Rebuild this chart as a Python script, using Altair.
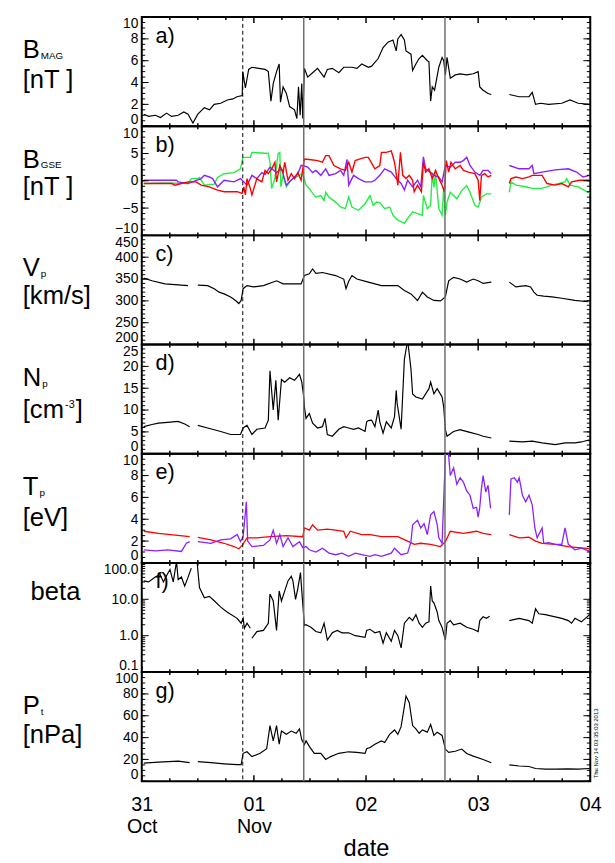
import altair as alt
import pandas as pd

W = 456
H = 111
GAP = None

# ---------------- data (hours since 31 Oct 00:00) ----------------
bmag = [(0.42,1.1),(1.5,0.9),(2.9,1.0),(4.0,0.8),(5.3,1.2),(6.4,0.9),(7.8,1.0),(9.0,1.3),(9.9,1.1),(10.95,0.3),(12.0,1.1),
        (13.4,1.7),(14.5,1.5),(15.5,2.0),(16.9,2.1),(18.3,2.4),(19.5,2.5),(20.4,2.7),(21.5,2.8),(21.62,5.0),(22.18,3.5),
        (22.88,5.2),(23.58,5.4),(26.4,5.2),(27.09,5.0),(27.65,2.3),(28.14,3.9),(28.85,5.0),(29.41,5.7),(29.69,2.2),
        (30.25,3.6),(30.95,3.0),(31.65,1.8),(32.7,1.5),(33.2,0.7),(33.55,3.6),(33.9,1.0),(34.25,3.9),(34.46,0.7),
        (34.81,5.3),(35.51,4.5),(36.57,4.9),(37.62,5.3),(39.02,4.5),(39.72,5.2),(40.78,5.3),(42.18,4.9),(43.23,5.4),
        (44.99,5.4),(46.04,5.3),(47.09,5.7),(48.5,5.4),(49.2,5.5),(50.6,6.2),(51.65,7.2),(52.7,7.7),(53.76,7.9),
        (54.46,6.9),(54.81,8.0),(55.51,8.4),(56.21,7.9),(56.56,6.9),(57.62,6.6),(57.97,5.1),(58.67,5.7),(59.37,6.2),
        (60.07,6.5),(61.12,6.0),(61.47,5.9),(61.83,2.3),(62.18,3.6),(62.67,3.3),(63.58,5.4),(64.28,6.3),(64.63,6.0),
        (64.98,4.7),(65.34,6.3),(66.04,4.4),(67.09,4.7),(68.14,4.8),(69.55,4.7),(70.95,4.8),(72.0,5.0),(72.35,3.6),
        (73.06,3.3),(74.11,3.0),(74.81,2.9),(76.0,GAP),(78.67,2.9),(80.78,2.7),(82.88,2.7),(83.58,3.1),(84.28,2.0),
        (85.34,2.1),(87.09,2.0),(89.9,2.1),(91.65,2.4),(93.41,2.1),(95.86,2.0)]

bx_green = [(0.42,-0.5),(4.98,-0.4),(9.9,-0.5),(10.6,0.4),(12.0,0.4),(12.35,0.6),(13.4,-0.8),(15.51,-0.6),(16.21,0.6),
            (17.62,1.3),(19.72,1.5),(21.13,2.2),(21.62,4.3),(23.23,4.3),(23.58,5.2),(27.09,5.0),(27.44,3.4),(27.79,-1.4),
            (28.49,0.4),(28.85,2.8),(29.2,5.0),(29.55,5.2),(29.76,-1.1),(30.25,1.0),(30.95,-1.1),(31.65,-0.2),(32.35,0.4),
            (33.76,1.0),(34.46,1.3),(35.16,-0.8),(35.86,-1.4),(36.57,-2.3),(37.27,-3.0),(38.32,-2.7),(39.02,-3.6),
            (39.37,-2.1),(40.07,-3.0),(41.48,-3.9),(42.53,-4.8),(43.58,-5.1),(44.29,-3.0),(44.99,-4.8),(46.39,-5.4),
            (47.79,-4.2),(48.84,-2.7),(49.54,-4.5),(50.25,-3.9),(50.95,-4.0),(52.0,-5.1),(53.05,-4.8),(53.76,-6.3),
            (54.81,-7.2),(55.51,-7.5),(56.21,-7.8),(56.91,-6.9),(57.97,-5.7),(59.02,-6.0),(60.07,-6.3),(60.28,-2.7),
            (61.12,-5.1),(61.83,-4.5),(62.18,1.5),(62.53,-1.2),(62.88,1.5),(63.58,-5.1),(64.28,-6.3),(64.63,-1.2),
            (64.98,-6.3),(65.34,-3.9),(66.04,-2.1),(67.44,-3.3),(68.49,-1.8),(69.55,-0.9),(70.25,-2.1),(71.3,-4.5),
            (72.0,-4.8),(72.7,-3.0),(73.76,-2.4),(74.81,-2.4),(76.0,GAP),(78.67,-2.1),(79.02,-0.2),(80.07,-0.8),
            (82.18,-1.1),(83.58,-1.4),(85.69,-1.4),(87.79,-0.8),(90.6,-0.2),(90.95,0.4),(91.65,-0.8),(93.41,-1.1),
            (95.51,-2.1),(95.86,-2.2)]

bx_purple = [(0.42,0.1),(7.44,0.1),(7.79,-0.2),(9.9,-0.5),(12.7,0.4),(13.4,1.0),(14.46,0.7),(15.16,0.4),(16.21,-1.1),
             (17.62,0.1),(19.72,-0.2),(21.13,0.4),(22.53,-0.8),(23.58,1.0),(24.63,0.4),(25.69,1.5),(26.39,1.2),
             (27.44,2.5),(28.85,1.5),(29.9,2.2),(30.95,-0.8),(32.35,0.4),(33.41,1.3),(34.11,2.8),(34.46,2.8),(35.51,2.5),
             (36.57,1.5),(37.27,1.9),(38.32,1.0),(39.37,2.2),(40.07,1.0),(41.48,1.3),(42.53,1.9),(43.23,1.0),(43.93,3.9),
             (44.29,-0.8),(45.34,1.0),(46.39,0.4),(47.79,-0.2),(49.2,-0.2),(49.9,0.1),(50.95,1.0),(52.0,2.2),(53.4,1.6),
             (54.46,0.4),(55.51,-0.5),(56.21,-1.7),(56.91,0.1),(57.97,-1.1),(59.02,0.1),(59.72,-1.1),(60.28,4.4),
             (60.77,2.2),(61.83,1.5),(62.53,1.0),(63.58,0.7),(64.28,-0.2),(64.98,2.8),(66.04,2.5),(67.09,3.4),
             (68.14,3.4),(68.84,3.7),(69.55,4.3),(70.25,2.8),(71.3,1.6),(72.35,1.0),(73.06,1.9),(74.11,1.9),(74.81,1.3),
             (76.0,GAP),(78.67,2.8),(80.78,2.2),(82.88,2.2),(83.58,2.8),(83.93,1.3),(85.69,1.6),(88.49,2.0),(91.3,2.2),
             (93.06,1.6),(94.46,0.7),(95.86,1.0)]

bx_red = [(0.42,-0.5),(6.39,-0.5),(7.09,-0.8),(9.9,-0.2),(11.65,-0.2),(12.7,-0.8),(14.46,-1.1),(16.21,-1.7),(17.62,-2.0),
          (20.42,-2.0),(21.48,-2.3),(21.83,-1.1),(22.18,-2.6),(22.53,0.4),(23.23,-1.4),(23.58,-2.6),(24.63,0.4),
          (25.69,-0.2),(26.39,1.9),(27.09,1.3),(27.79,2.2),(28.49,3.4),(28.85,-0.2),(29.55,2.8),(30.25,1.5),(30.6,3.4),
          (31.3,0.1),(32.0,1.3),(32.7,0.4),(33.41,1.5),(34.11,0.1),(34.46,2.2),(34.81,4.0),(35.86,3.9),(37.62,3.7),
          (38.67,3.4),(39.37,4.6),(40.07,4.6),(41.13,2.8),(42.53,2.2),(43.58,1.9),(44.29,3.4),(44.99,1.6),(45.69,3.7),
          (46.74,4.0),(47.79,4.3),(48.5,4.3),(49.9,2.2),(50.95,2.8),(51.3,5.2),(52.35,5.2),(53.4,5.5),(54.1,3.4),
          (54.81,-0.8),(55.37,5.2),(55.86,1.0),(56.56,0.4),(57.26,1.0),(57.97,0.1),(58.32,-2.0),(59.02,-0.8),
          (59.86,-2.0),(60.28,3.4),(60.77,1.6),(61.47,2.2),(62.18,0.4),(62.88,1.9),(63.58,0.4),(64.28,-0.8),
          (64.77,-2.0),(65.19,3.7),(65.69,1.6),(66.18,3.4),(67.09,2.2),(68.14,2.8),(68.84,1.9),(69.9,1.6),(71.3,1.3),
          (72.0,0.1),(72.35,-3.6),(72.7,1.0),(73.41,1.3),(74.11,0.7),(74.81,1.0),(76.0,GAP),(78.67,-0.5),(79.02,0.4),
          (80.07,0.7),(81.48,0.4),(82.88,0.7),(83.58,1.0),(85.69,1.0),(86.74,-0.5),(88.49,-0.8),(89.9,-0.5),
          (91.3,-1.1),(92.0,-0.2),(93.76,0.1),(95.86,0.1)]

vp = [(0.42,352),(2.18,346),(4.98,339),(9.9,335),(11.0,GAP),(12.0,336),(14.1,335),(15.51,328),(16.56,320),(17.62,316),
      (19.02,309),(20.07,301),(20.77,294),(21.27,301),(21.69,328),(22.53,335),(23.93,332),(26.04,335),(28.85,346),
      (30.25,339),(32.35,339),(34.11,339),(34.81,358),(35.86,362),(36.57,373),(37.27,363),(38.67,365),(41.48,358),
      (43.23,350),(43.72,328),(44.29,345),(44.99,358),(46.04,350),(48.5,343),(51.3,335),(54.81,335),(56.21,324),
      (57.62,316),(59.02,301),(60.07,320),(61.12,309),(62.53,301),(63.93,300),(64.98,309),(65.69,346),(66.74,354),
      (68.14,350),(69.55,343),(70.95,350),(72.0,346),(73.06,340),(74.81,343),(76.0,GAP),(78.67,343),(80.07,332),
      (82.18,335),(83.23,332),(83.93,320),(84.63,313),(86.04,311),(87.79,309),(89.9,306),(92.71,301),(95.51,298)]

np_ = [(0.42,6.2),(2.18,6.7),(3.58,7.0),(5.5,7.2),(7.79,7.4),(9.2,6.8),(10.25,6.2),(11.0,GAP),(12.0,6.5),(14.1,5.9),
       (16.9,5.1),(19.02,4.4),(21.13,4.4),(21.69,5.9),(22.53,6.5),(23.58,4.4),(24.63,5.6),(26.39,5.9),(27.09,7.7),
       (27.44,19.0),(28.14,10.0),(28.7,16.8),(29.2,7.7),(29.9,17.0),(30.6,16.4),(31.65,17.4),(32.7,16.8),(33.76,18.2),
       (34.25,16.4),(34.67,13.0),(34.81,10.7),(35.16,8.1),(35.86,9.2),(36.57,7.0),(37.62,5.9),(38.67,6.2),(39.23,8.1),
       (39.72,4.4),(40.78,4.0),(42.18,5.6),(43.23,6.2),(44.29,5.9),(45.34,5.6),(46.39,5.9),(47.79,5.1),(48.14,7.3),
       (48.5,7.6),(49.2,7.7),(49.9,6.2),(50.6,10.0),(50.95,7.3),(51.65,4.7),(52.35,7.3),(53.4,5.9),(54.1,8.5),
       (54.46,14.5),(54.67,11.5),(55.16,8.1),(55.51,5.6),(56.21,21.6),(56.91,26.0),(57.62,19.4),(57.97,13.7),
       (58.67,13.0),(60.07,12.5),(61.47,14.9),(61.83,16.4),(62.53,13.7),(63.23,14.9),(64.28,13.0),(64.63,10.7),
       (64.98,5.5),(65.34,4.0),(66.74,5.1),(68.14,5.5),(68.84,5.3),(70.25,4.9),(72.0,4.4),(73.06,4.0),(74.81,3.6),
       (76.0,GAP),(78.67,2.9),(81.48,2.7),(83.58,2.9),(85.69,2.5),(88.49,2.1),(90.6,2.5),(92.71,2.5),(94.11,2.7),
       (95.86,3.2)]

tp_red = [(0.42,2.9),(3.58,2.7),(10.25,2.4),(11.0,GAP),(12.0,2.35),(14.81,2.1),(17.62,1.8),(19.72,1.5),(20.77,1.3),
          (21.48,1.6),(22.53,2.3),(24.63,2.3),(27.44,2.4),(30.95,2.5),(34.46,2.4),(34.81,3.2),(35.86,3.0),(36.57,3.5),
          (37.62,3.0),(39.72,3.1),(41.48,3.0),(43.23,2.9),(43.72,2.3),(44.64,2.9),(47.09,2.6),(48.85,2.6),(51.3,2.4),
          (54.81,2.4),(56.91,2.0),(58.32,1.7),(59.72,1.8),(61.83,1.7),(63.93,1.5),(64.98,1.95),(66.04,2.9),(67.44,2.8),
          (68.84,2.7),(71.65,2.9),(73.06,2.7),(74.81,2.6),(76.0,GAP),(78.67,2.6),(80.78,2.3),(82.88,2.35),(84.28,2.0),
          (85.69,1.8),(88.49,1.7),(91.3,1.5),(93.41,1.4),(95.86,1.3)]

tp_purple = [(0.42,1.2),(3.0,1.1),(5.6,1.2),(8.49,1.05),(9.55,1.8),(10.25,1.95),(11.0,GAP),(12.0,1.95),(14.81,1.8),
             (16.91,2.1),(19.02,2.2),(20.42,2.6),(21.13,1.95),(21.69,2.4),(22.39,5.6),(22.67,2.0),(23.58,1.5),
             (26.04,1.6),(27.44,2.1),(28.14,3.0),(28.85,1.8),(29.55,2.6),(30.25,1.5),(31.3,2.3),(32.35,1.5),(33.76,1.95),
             (34.46,1.4),(35.16,1.5),(35.86,1.2),(37.27,1.0),(38.67,1.35),(40.07,0.9),(41.48,0.75),(42.88,0.9),
             (44.29,0.6),(45.69,0.9),(47.09,0.75),(48.85,0.6),(49.9,0.75),(51.3,0.6),(53.4,0.9),(54.1,1.35),(54.81,1.05),
             (55.51,0.75),(56.91,0.9),(57.62,1.95),(57.97,3.5),(59.02,3.9),(59.72,3.2),(60.42,3.6),(61.12,2.6),
             (61.83,4.4),(62.53,4.7),(63.23,3.5),(63.58,2.3),(64.28,1.8),(64.98,9.8),(65.48,10.5),(65.69,9.8),(66.04,8.0),
             (66.74,8.7),(67.44,7.2),(68.14,7.8),(68.84,7.4),(69.55,6.6),(70.25,6.2),(70.95,5.0),(71.65,5.1),(72.0,4.2),
             (72.35,5.1),(72.7,6.8),(73.06,8.0),(73.62,6.5),(74.11,7.1),(74.67,5.0),(76.0,GAP),(78.67,4.4),(79.02,7.7),
             (79.72,7.8),(80.42,7.4),(80.78,7.8),(81.48,6.2),(82.18,5.6),(82.88,6.2),(83.58,5.3),(84.14,3.2),(84.63,2.3),
             (85.69,3.2),(86.04,1.8),(87.09,1.85),(88.49,1.7),(89.9,1.7),(90.6,3.2),(91.3,1.7),(92.71,1.2),(94.11,1.35),
             (95.86,1.05)]

beta = [(0.42,32),(1.47,30),(2.88,41),(3.93,48),(4.63,30),(5.33,45),(6.04,66),(6.74,30),(7.44,110),(7.79,35),(8.49,41),
        (9.19,23),(9.9,40),(10.6,72),(11.2,GAP),(11.86,100),(12.35,21),(13.4,11),(14.46,12),(15.51,9.1),(16.91,6.1),
        (18.32,4.4),(20.42,3.0),(21.27,2.2),(21.69,3.0),(21.97,1.6),(22.53,2.2),(23.23,1.6),(23.4,GAP),(23.58,0.85),
        (24.63,1.3),(26.04,1.4),(27.09,2.2),(27.44,14),(28.14,9),(28.85,1.4),(29.41,17),(29.9,9),(30.6,17),(31.3,32),
        (32.0,43),(32.35,32),(32.92,10),(33.41,20),(33.97,54),(34.32,13),(34.81,1.9),(35.16,2.0),(36.21,1.7),
        (37.27,1.3),(38.32,1.2),(39.02,2.2),(39.72,0.76),(40.78,1.2),(41.83,1.4),(42.88,1.2),(44.29,1.2),(45.69,1.0),
        (47.79,0.9),(48.14,1.4),(48.85,1.5),(49.2,1.4),(49.9,1.2),(50.95,1.3),(51.65,0.62),(52.35,1.2),(53.4,0.7),
        (54.1,1.4),(54.81,1.0),(55.51,0.46),(56.21,2.2),(57.26,3.2),(57.97,2.6),(58.67,3.8),(59.37,2.2),(60.07,1.7),
        (60.77,2.2),(61.47,2.4),(61.83,23),(62.18,9),(62.53,8),(63.23,4.5),(63.58,2.6),(64.28,1.7),(64.98,0.76),
        (65.34,2.2),(66.04,2.6),(66.74,2.0),(68.14,2.2),(69.55,1.7),(70.95,1.5),(72.0,1.3),(72.35,2.6),(73.06,3.3),
        (73.76,3.0),(74.46,3.4),(76.0,GAP),(78.67,2.6),(80.78,3.0),(82.88,2.6),(83.58,2.2),(84.28,5.5),(84.98,4.0),
        (86.39,3.8),(88.49,3.3),(89.9,3.0),(91.3,2.6),(92.0,2.2),(92.71,3.0),(94.11,2.4),(95.86,3.8)]

pt = [(0.42,16.6),(3.58,17.5),(7.79,18.5),(10.25,17),(11.0,GAP),(12.0,18),(14.81,17),(17.62,16),(20.42,15.2),(21.27,15.2),
      (21.69,25.6),(22.53,27),(23.58,22.6),(25.34,25.6),(26.74,29.8),(27.44,51),(28.14,37),(28.85,51),(29.41,34),
      (29.9,46),(30.95,43),(32.0,46),(33.06,44),(33.76,48),(34.25,38),(34.81,33.6),(35.16,37),(35.86,32),(36.92,25.6),
      (38.32,25.6),(39.37,20),(40.42,22.6),(42.18,25.6),(44.29,27),(46.04,26.5),(47.79,25.5),(48.14,29.8),(48.85,31),
      (49.9,34),(51.3,37),(52.0,35.5),(53.05,43),(54.1,47),(54.81,43),(55.51,50),(56.56,78),(57.26,72),(57.97,51),
      (58.67,48),(59.37,44),(60.07,47),(61.12,45),(61.83,52),(62.53,42),(63.23,45),(64.28,42),(64.98,29.5),
      (65.69,26.5),(67.09,27.5),(68.49,29.5),(69.55,25.5),(70.95,23),(73.06,20),(74.81,17),(76.0,GAP),(78.67,15),
      (80.78,14),(82.88,13.5),(84.28,11.7),(86.39,11.2),(88.49,11.2),(91.3,11.4),(93.41,11.2),(95.86,11.7)]

event_dashed = [21.62]
event_solid = [34.67, 64.9]

day_ticks = [0, 24, 48, 72, 96]
day_labels = [["31", "Oct"], ["01", "Nov"], ["02"], ["03"], ["04"]]
hour6_ticks = [6, 12, 18, 30, 36, 42, 54, 60, 66, 78, 84, 90]

letters = ["a)", "b)", "c)", "d)", "e)", "f)", "g)"]
t_main = ["B", "B", "V", "N", "T", "beta", "P"]
t_sub = ["MAG", "GSE", "p", "p", "p", "", "t"]
t_unit = ["[nT ]", "[nT ]", "[km/s]", "[cm", "[eV]", "", "[nPa]"]

RED = "#ff0000"
GREEN = "#22ee44"
PURPLE = "#8a1fff"
FONT = "Liberation Sans"

xscale = alt.Scale(domain=[0, 96], nice=False, zero=False)


def frame(pairs):
    seg = 0
    rows = []
    for h, v in pairs:
        if v is None:
            seg += 1
            continue
        rows.append((h, v, seg))
    return pd.DataFrame(rows, columns=["h", "v", "seg"])


def one_row():
    return pd.DataFrame({"k": [0]})


def panel(idx, series, domain, labels, minors, fmt="d", log=False, bottom=False):
    yscale = alt.Scale(domain=domain, type="log" if log else "linear", nice=False, zero=False)
    yaxis = alt.Axis(values=labels, format=fmt, title=None, ticks=False, domain=False, grid=False,
                     labelFlush=True, labelOverlap=False, labelFontSize=14, labelPadding=4,
                     labelColor="black", labelFont=FONT)
    if bottom:
        parts = []
        for v, lab in zip(day_ticks, day_labels):
            parts.append("datum.value == %d ? %s : " % (v, str(lab)))
        xaxis = alt.Axis(values=day_ticks, labelExpr="".join(parts) + "''", title="date", ticks=False,
                         domain=False, grid=False, labelFontSize=20, labelLineHeight=22, labelPadding=14,
                         labelFont=FONT, titleFont=FONT, titleFontSize=24, titleFontWeight="normal",
                         titlePadding=0, labelColor="black", titleColor="black", labelFlush=False,
                         labelOverlap=False)
    else:
        xaxis = None
    X = lambda: alt.X("h:Q", scale=xscale, axis=xaxis)
    Y = lambda: alt.Y("v:Q", scale=yscale, axis=yaxis)
    layers = []
    for pairs, color, sw in series:
        df = frame(pairs)
        layers.append(alt.Chart(df).mark_line(color=color, strokeWidth=sw, clip=True).encode(
            x=X(), y=Y(), detail="seg:N"))
    # event lines
    layers.append(alt.Chart(pd.DataFrame({"h": event_dashed})).mark_rule(
        color="black", strokeWidth=1, strokeDash=[4, 3]).encode(x=X()))
    layers.append(alt.Chart(pd.DataFrame({"h": event_solid})).mark_rule(
        color="#6e6e6e", strokeWidth=1.5).encode(x=X()))
    # y ticks (inward, both sides)
    for vals, ln in ((labels, 7), (minors, 3.5)):
        d = pd.DataFrame({"v": vals})
        layers.append(alt.Chart(d).mark_rule(color="black", strokeWidth=1).encode(
            y=Y(), x=alt.value(0), x2=alt.value(ln)))
        layers.append(alt.Chart(d).mark_rule(color="black", strokeWidth=1).encode(
            y=Y(), x=alt.value(W - ln), x2=alt.value(W)))
    # time ticks (inward, top and bottom)
    for vals, ln in ((day_ticks, 6), (hour6_ticks, 3)):
        d = pd.DataFrame({"h": vals})
        layers.append(alt.Chart(d).mark_rule(color="black", strokeWidth=1.5).encode(
            x=X(), y=alt.value(0), y2=alt.value(ln)))
        layers.append(alt.Chart(d).mark_rule(color="black", strokeWidth=1.5).encode(
            x=X(), y=alt.value(H - ln), y2=alt.value(H)))
    # panel letter
    layers.append(alt.Chart(one_row()).mark_text(text=letters[idx], font=FONT, fontSize=22, align="left",
                                                  baseline="middle", color="black").encode(
        x=alt.value(14), y=alt.value(19)))
    # left title
    ycen = [33, 33, 32, 33, 33, 29, 34][idx]
    yun = [63, 61, 61, 66, 64, 0, 63][idx]
    xl = -121
    mainw = {"B": 17.3, "V": 17.3, "N": 18.8, "T": 15.9, "P": 17.3}
    xm = xl + (8 if t_main[idx] == "beta" else 0)
    layers.append(alt.Chart(one_row()).mark_text(text=t_main[idx], font=FONT, fontSize=26, align="left",
                                                  baseline="alphabetic", color="black").encode(
        x=alt.value(xm), y=alt.value(ycen + 9)))
    if t_sub[idx]:
        layers.append(alt.Chart(one_row()).mark_text(text=t_sub[idx], font=FONT, fontSize=10, align="left",
                                                      baseline="alphabetic", color="black").encode(
            x=alt.value(xl + mainw[t_main[idx]] + 1), y=alt.value(ycen + 10)))
    if t_unit[idx]:
        layers.append(alt.Chart(one_row()).mark_text(text=t_unit[idx], font=FONT, fontSize=26, align="left",
                                                      baseline="alphabetic", color="black").encode(
            x=alt.value(xl), y=alt.value(yun + 9)))
        if t_unit[idx] == "[cm":
            layers.append(alt.Chart(one_row()).mark_text(text="-3", font=FONT, fontSize=11, align="left",
                                                          baseline="alphabetic", color="black").encode(
                x=alt.value(xl + 43), y=alt.value(yun - 1)))
            layers.append(alt.Chart(one_row()).mark_text(text="]", font=FONT, fontSize=26, align="left",
                                                          baseline="alphabetic", color="black").encode(
                x=alt.value(xl + 54), y=alt.value(yun + 9)))
    if bottom:
        layers.append(alt.Chart(one_row()).mark_text(text="Thu Nov 14 03:35:03 2013", font=FONT, fontSize=6,
                                                      align="left", baseline="middle", angle=270,
                                                      color="black").encode(
            x=alt.value(W + 6), y=alt.value(H - 3)))
    return alt.layer(*layers).properties(width=W, height=H)


def rng(a, b, s):
    out = []
    v = a
    while v <= b + 1e-9:
        out.append(round(v, 6))
        v += s
    return out


pa = panel(0, [(bmag, "black", 1.2)], [0, 10], [0, 2, 4, 6, 8, 10], rng(0, 10, 0.5))
pb = panel(1, [(bx_green, GREEN, 1.4), (bx_purple, PURPLE, 1.4), (bx_red, RED, 1.4)], [-10, 10],
           [-10, -5, 0, 5, 10], rng(-10, 10, 1))
pc = panel(2, [(vp, "black", 1.2)], [200, 450], [200, 250, 300, 350, 400, 450], rng(200, 450, 10))
pd_ = panel(3, [(np_, "black", 1.2)], [0, 25], [0, 5, 10, 15, 20, 25], rng(0, 25, 1))
pe = panel(4, [(tp_red, RED, 1.3), (tp_purple, PURPLE, 1.3)], [0, 10], [0, 2, 4, 6, 8, 10], rng(0, 10, 0.5))
log_minor = [0.2, 0.3, 0.4, 0.5, 0.6, 0.7, 0.8, 0.9, 2, 3, 4, 5, 6, 7, 8, 9, 20, 30, 40, 50, 60, 70, 80, 90]
pf = panel(5, [(beta, "black", 1.2)], [0.1, 100], [0.1, 1, 10, 100], log_minor, fmt=".1f", log=True)
pg = panel(6, [(pt, "black", 1.2)], [0, 100], [0, 20, 40, 60, 80, 100], rng(0, 100, 5), bottom=True)

chart = alt.vconcat(pa, pb, pc, pd_, pe, pf, pg, spacing=0, bounds="flush").properties(
    padding={"left": 14, "top": 0, "right": 4, "bottom": 0}
).configure(font=FONT, background="white").configure_view(stroke="black", strokeWidth=2)

chart.save("out.html", embed_options={"renderer": "svg", "actions": False})
